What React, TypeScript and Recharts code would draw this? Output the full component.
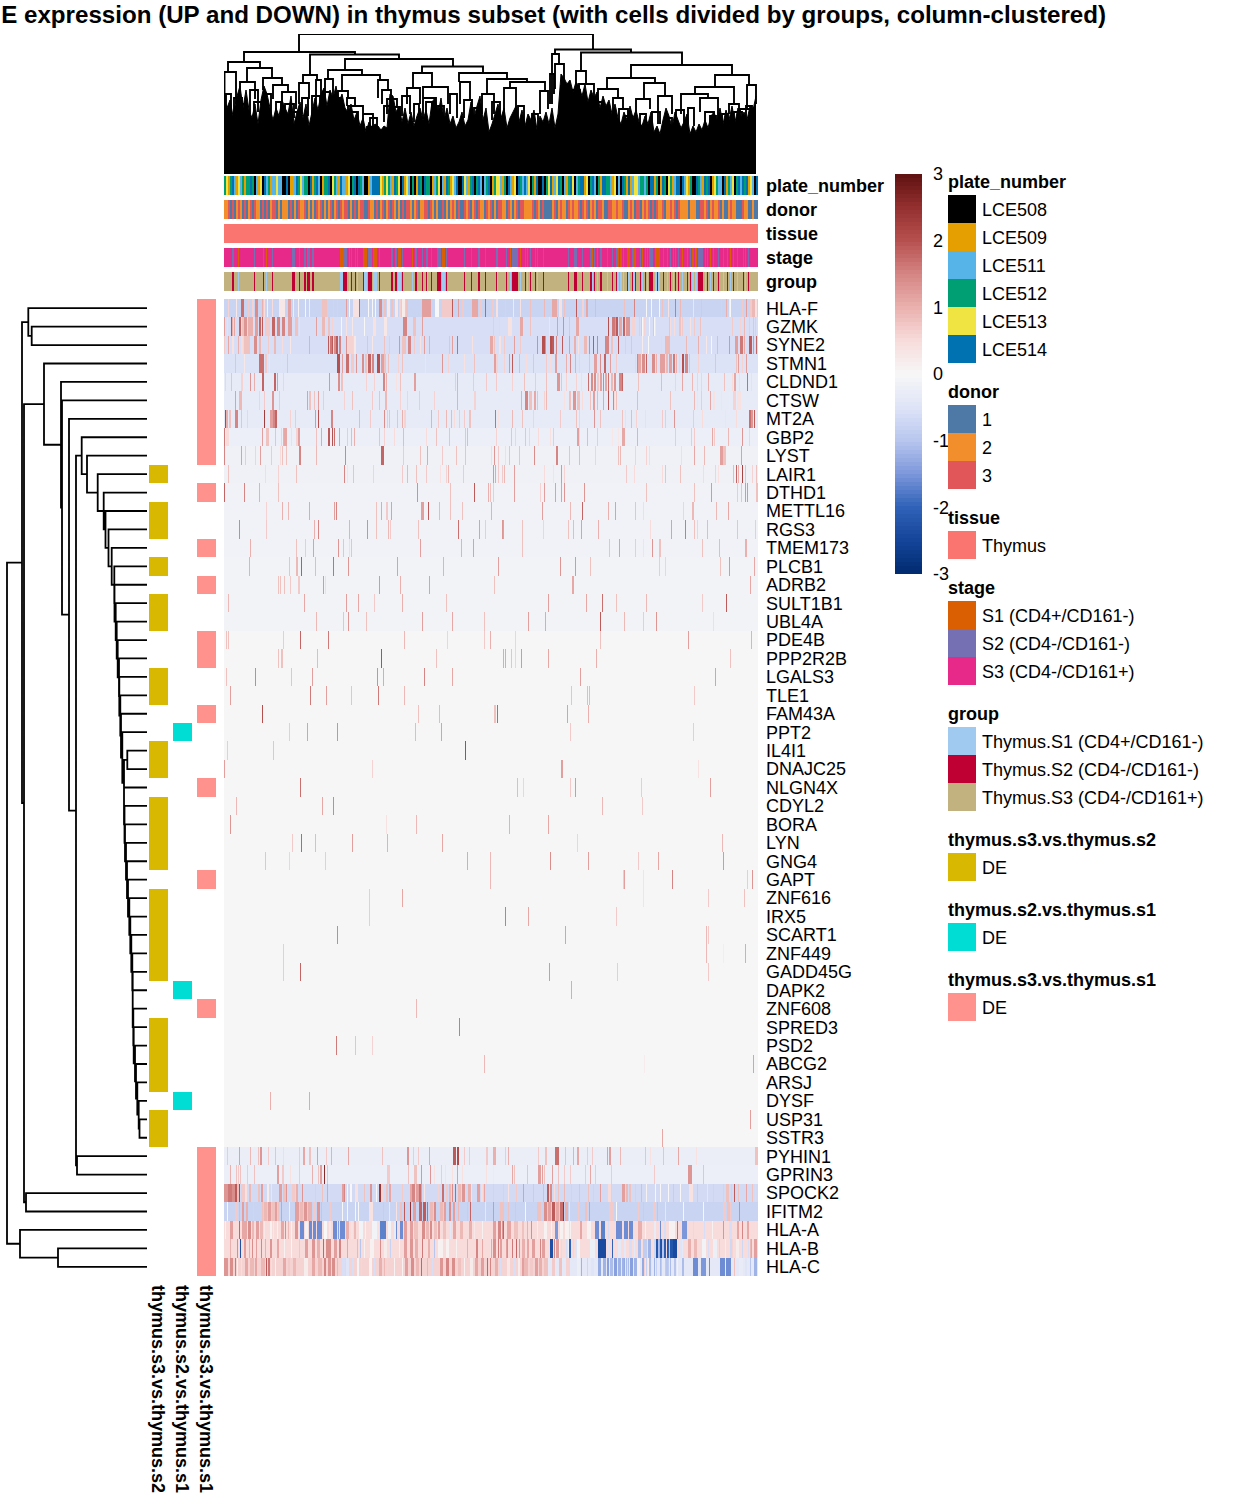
import React from "react";
import {
  ScatterChart,
  Scatter,
  ComposedChart,
  Line,
  Area,
  XAxis,
  YAxis,
  ReferenceLine,
} from "recharts";

const FONT = '"Liberation Sans", Arial, sans-serif';
const COLS = 534;

const genes = [
  "HLA-F", "GZMK", "SYNE2", "STMN1", "CLDND1", "CTSW", "MT2A", "GBP2", "LYST", "LAIR1", "DTHD1",
  "METTL16", "RGS3", "TMEM173", "PLCB1", "ADRB2", "SULT1B1", "UBL4A", "PDE4B", "PPP2R2B", "LGALS3",
  "TLE1", "FAM43A", "PPT2", "IL4I1", "DNAJC25", "NLGN4X", "CDYL2", "BORA", "LYN", "GNG4", "GAPT",
  "ZNF616", "IRX5", "SCART1", "ZNF449", "GADD45G", "DAPK2", "ZNF608", "SPRED3", "PSD2", "ABCG2",
  "ARSJ", "DYSF", "USP31", "SSTR3", "PYHIN1", "GPRIN3", "SPOCK2", "IFITM2", "HLA-A", "HLA-B", "HLA-C",
];

// resting z-score of every row, the stripes below are drawn on top of it
const rowBase = [
  -0.78, -0.6, -0.6, -0.52, -0.33, -0.33, -0.33, -0.22, -0.17, -0.15, -0.13, -0.13, -0.12, -0.12, -0.1,
  -0.1, -0.1, -0.1, -0.02, -0.02, -0.02, -0.02, -0.02, -0.02, -0.02, -0.02, -0.02, -0.02, -0.02, -0.02,
  -0.02, -0.02, -0.02, -0.02, -0.02, -0.02, -0.02, -0.02, -0.02, -0.02, -0.02, -0.02, -0.02, -0.02,
  -0.02, -0.02, -0.25, -0.22, -0.67, -0.78, 0.5, 0.5, 0.6,
];

// [column, z, width in columns]
const hlaF = [[4,.6],[12,.3],[17,1.7,3],[24,.7],[28,.6,2],[31,1.4,3],[38,1],[40,.5],[43,.1],[48,.5],[55,.3,6],[64,1.2,3],[69,.2],[74,.1],[81,0],[85,.2],[98,.8,5],[109,.7],[113,.7],[122,1.2],[125,0],[129,.4,6],[135,1.8],[144,0],[148,0],[151,0],[155,1.4,3],[160,.8,2],[163,.3,3],[167,.8,2],[171,.3,3],[175,.6,2],[178,.2,3],[182,.8,2],[198,1.2,9],[211,0,4],[218,.7,9],[228,1.9],[234,1.2],[238,.7,2],[248,1.1,6],[255,.7,3],[261,1.8],[268,.7,2],[272,.4,2],[281,.7],[289,.3],[296,.4],[306,.8],[320,.9],[328,1.1,5],[335,.4,3],[340,.8],[352,1.9],[358,.6,2],[362,1.1,2],[371,.9],[400,.8],[410,1.5],[422,0],[427,0],[435,0],[438,.8],[444,.4],[451,1.6],[456,.9],[469,.4],[477,.8],[497,.7],[502,1],[506,0],[518,.7],[522,1.2],[526,.7,3],[505,.3],[528,.9,3],[531,.4,2]];
const gzmk = [[0,1.2],[3,.5],[7,1.9],[8,1],[10,1.1],[15,1.8,2],[18,.8,2],[20,1.3,3],[24,1,5],[31,1.2,3],[35,1.8,2],[38,1.9],[41,.7,5],[48,1.8,3],[53,1.5,3],[58,1.5,3],[64,1.2,4],[71,.8,3],[75,.5],[92,1.2],[98,.9,3],[104,.8,2],[108,.6],[117,0],[122,.4],[128,.3],[140,0],[149,.4,3],[160,.3,3],[179,1.5,4],[189,.8,3],[198,1.2],[269,.7],[275,.6],[284,.4,4],[296,1.1,3],[306,.8],[325,.4],[335,.6],[333,1.2],[352,1.1,3],[339,1.4],[345,.8],[384,2],[388,1.6,3],[392,1.9,2],[395,1.1,3],[399,1.8,2],[402,1.3,4],[408,.6,3],[415,.7],[391,1.3],[429,.8],[445,.8],[418,.4,2],[420,.6],[431,.4],[418,.6],[417,.8],[458,.7],[520,.9],[529,.8],[446,.5],[425,.1],[418,0],[430,0],[470,.7],[476,.8],[450,.5],[455,.8,2],[466,.4],[508,.7],[516,.6],[525,.7],[531,.7]];
const syne2 = [[0,.7],[4,1.1],[8,.4,2],[14,1],[17,.5,2],[20,.8,6],[30,1.4,3],[35,.9,2],[44,.7],[50,.9,2],[58,.5],[66,.3],[85,1],[104,1.9],[106,1.6,2],[108,1.9],[110,1.4,2],[112,1.9,2],[115,1.5,2],[122,1.3],[124,.6,5],[130,.3,2],[143,.8],[148,.3],[160,.8],[165,.7],[175,1.3],[178,.8,4],[184,1.5,3],[190,.7],[196,.4],[200,1.2],[205,1],[225,.8],[228,1.2],[233,1.7],[248,.4],[266,1.1,3],[270,.8],[275,.4,2],[280,.7],[290,1.2],[296,.7],[313,1.4],[318,2,3],[321,1.4],[326,2,2],[328,1.9,2],[332,1.5],[338,1.9],[345,1.2],[350,1,2],[354,.4],[360,.9,3],[365,1.4],[369,1.9],[373,1.5],[381,1.5,4],[387,.8,2],[394,1.9],[401,.7],[407,.8],[418,.2],[424,0],[437,.6],[441,.9,5],[462,.9],[474,1],[482,.3],[487,0],[493,.9],[505,1.3],[511,1.2,3],[516,1.6,3],[520,1.1],[525,1.9,3],[529,1.3],[532,1.8]];
const stmn1 = [[11,.8],[20,.3],[35,1.7,5],[41,.7,2],[45,.4],[57,.5],[63,.8],[113,2,3],[118,1.2],[122,1.7,3],[127,.7,3],[132,1.3],[138,1.4,2],[141,.8,2],[144,1.8,3],[148,1.5,2],[153,2,3],[157,1.2,3],[160,.8,2],[164,.8],[174,.6],[178,.8],[201,.4],[218,1.3],[224,.6],[240,.4],[250,.8],[270,1.2,3],[273,.6],[280,.6],[285,1.3],[288,1.9],[272,.6],[295,.9],[302,.5],[309,.8],[322,.7],[326,.5],[331,1.2,2],[342,1],[346,1.5],[351,1],[355,.6],[365,.8],[370,1.2,3],[376,1.4],[380,1.8,2],[386,1.2],[392,.7],[414,1.1,3],[418,1.4,3],[422,1.8],[428,1.4,3],[432,1],[413,1.5],[411,.6],[436,1.2,5],[442,.9,2],[445,1.2,3],[449,1.6,2],[452,1],[455,.6],[458,2,2],[461,1.5,3],[465,.8],[474,.6],[491,.8],[512,.8],[514,1.2],[518,.6],[522,1.2]];
const cldnd1 = [[1,.6],[7,.8],[17,.6,2],[26,1.3],[30,1],[38,1.8,2],[50,1.8,2],[53,1.2],[59,.6],[105,1.3],[114,1.4,2],[117,.8,2],[142,.6],[150,.6],[159,1.5,2],[162,1],[172,.4],[176,.8],[190,1.2,2],[231,.7],[233,1],[262,.7],[272,.7],[249,.7],[288,.6],[300,.8],[311,.7],[322,.8],[333,1.3,3],[337,.8],[342,.6],[352,.6],[357,.5],[364,1.7],[367,1.4,2],[370,1.4,2],[373,.7,2],[376,1.2,2],[379,1.5],[381,1.1,2],[384,1.7],[387,.9,2],[390,1.3,2],[395,1.5,3],[398,1.8],[414,.8],[437,.9],[451,.6],[458,1.1],[468,.9],[473,.6],[477,.6],[484,1],[500,.8],[508,.5],[515,.5],[523,1.7],[527,.5],[510,1.1,2]];
const ctsw = [[11,1.2],[15,.9,3],[35,.6],[40,.7],[48,1.3,2],[55,.7],[83,1.2],[85,.8,2],[90,.8],[94,1.2],[99,.7],[120,.6],[128,.8],[148,.7],[155,.8],[161,.9,2],[176,.6],[183,.6],[195,.7],[210,.6],[233,1],[250,.6,2],[297,1],[301,1.5,3],[305,.8,3],[310,1.1,2],[313,.8],[320,.6],[322,.9],[340,.4],[345,.8,2],[349,1.3,3],[353,.8,3],[358,.5],[366,.8],[373,.9],[369,1.2,2],[379,1.1],[384,2],[390,.5],[392,.8],[389,1.5],[413,.9],[446,.8],[470,.9],[473,.4],[477,.7],[486,1.1],[509,.6,3],[513,.4,4],[497,.4],[489,.4,2],[505,.3]];
const mt2a = [[1,2.1],[2,1,2],[5,.8,2],[11,1.5,3],[17,.8],[23,.6],[40,2.3],[46,1.2,3],[49,1.5,2],[51,1.8,2],[66,.6],[71,.7],[91,1.3],[94,2],[107,1.5,2],[135,.9],[146,.7],[160,1.4],[163,.7],[165,.8],[173,.8],[178,1],[180,.6,2],[207,1],[214,.7],[222,.9],[227,.9],[230,.5],[235,.7],[240,.7],[245,.8,2],[271,1.7],[274,.4],[288,.9],[298,.8],[309,.6],[336,.7],[352,.8],[355,.6],[370,1.3],[376,.8],[398,.8],[401,.5],[407,.9],[412,.6],[421,.5],[438,.7],[441,.7],[450,1.3],[469,.7],[478,.5],[501,.4],[525,1.7,2],[527,1.3,2],[530,1.9],[512,.5]];
const gbp2 = [[0,1.6],[2,.5,3],[38,1.2],[42,.8,3],[51,.8],[57,.6],[59,1],[60,1.1,3],[67,.5],[72,.6,2],[74,1.2,2],[92,.8],[97,1.1],[104,1.9,2],[108,2],[110,1.7],[115,1.2],[123,.7],[127,.9],[130,1],[155,.8],[160,.6],[170,.5],[179,.9],[202,.5],[212,.8],[225,.8],[241,.8],[243,.9],[272,.6],[287,.8],[291,.6],[301,.8],[305,.6],[314,.5],[326,.4],[329,.7],[353,1.2,2],[355,.6],[363,.9],[373,.7],[388,.3],[394,.3],[398,1.1,3],[413,1],[451,.7],[467,.7],[470,.7],[490,.7],[488,1.1],[504,.9],[518,1.3],[525,.6]];
const lyst = [[0,1.5],[17,1.2],[21,.7],[31,.6],[36,1.2],[47,.7],[56,.5],[58,.8],[62,.8],[75,1.5,2],[92,.9],[121,1.5],[157,1.8,3],[179,.7],[196,.8],[203,1.1],[218,.7],[232,.8],[241,.8],[267,.5],[270,1.3],[274,.7],[281,.5],[285,.8],[295,.8],[310,1.4],[332,1.5,2],[345,.8],[355,.9],[371,.6],[394,.8],[396,.9],[411,.6],[422,.6],[425,.5],[457,.5],[470,1.1],[480,.9],[496,1.2,3],[499,.8,3],[517,1.2]];
const lair1 = [[4,.8],[41,.5],[54,.6],[72,.8],[120,1.5],[123,.4],[129,.8],[149,.6],[178,.7],[183,.9],[192,.8],[202,.7],[216,.4],[222,.6],[224,.7],[224,.9],[239,.7],[269,1.3],[271,1.1],[274,.7],[278,.7],[280,.9],[290,1.2],[320,.5],[329,.4],[337,1.3],[340,.6],[402,.7],[410,.5],[438,.7],[441,.8],[438,.5],[456,.8],[491,.6],[494,.4],[509,.9],[512,1.8],[479,.5],[518,2.2],[514,1],[521,.8],[528,.6],[532,.8]];

const dthd1 = [[0,1.8],[20,1.5],[35,1],[54,.8],[193,1.4],[226,.8],[250,1.9],[264,1],[266,.8],[269,.7],[290,1.2],[316,.6],[320,1.2],[331,1.2],[337,1.2],[340,1.3],[360,1.3],[422,.8],[470,.8],[487,1.3],[513,.7],[517,.8],[521,1.3],[523,1.3],[532,.8,2]];
const mettl16 = [[42,.6],[58,1],[64,.9],[85,1.1],[110,1.2],[112,1.5],[152,.8],[157,1.1],[162,.7,2],[167,1.2],[197,1.2,3],[204,1.9],[215,.9],[226,.8],[238,.8],[267,1],[318,1.2],[346,.9],[358,1.8],[384,1],[391,1.2],[411,.8],[419,.5],[459,.6],[468,.9,2],[492,.9],[504,1.1]];
const rgs3 = [[15,1.5],[42,.7],[90,1],[94,1.5],[125,1],[143,1.4],[152,.8],[164,.9],[166,.7],[194,.8],[234,1.7],[255,1.2],[261,.7],[278,1.3],[279,1.2],[298,.8],[319,.6],[344,.8],[349,.9],[357,1.2],[374,1],[426,.5],[447,1.2],[461,1.6],[470,.8],[473,.6],[483,.9],[513,.8],[531,.7]];
const tmem173 = [[26,1],[72,.8],[81,.7],[89,1.2],[114,1.3],[119,.8],[125,.5],[127,.8],[196,1.2],[237,1],[249,1.2],[298,.8],[385,.8],[395,1.2],[411,.7],[419,.4],[428,1.3],[435,.8,2],[478,.8],[495,.9],[521,1,2]];
const plcb1 = [[25,1],[65,.8],[72,.9,2],[77,1.9],[91,.9],[109,1.7],[124,1.3],[173,1.2],[219,1],[274,1.2],[336,1.3],[351,1.3],[366,.8],[435,.7],[441,.6],[496,.8],[505,1.3],[530,1.1]];
const adrb2 = [[54,.8],[56,.8],[60,.8],[66,.7],[74,.7,2],[99,1.3],[101,.5],[155,1.3],[176,1],[205,1.2],[270,.8],[348,1.1,2],[526,1.1]];
const sult1b1 = [[4,.9],[80,1.1],[122,1.2],[134,1.1],[150,.7],[178,1],[222,.8],[324,1.2],[362,1.1],[378,1.7],[392,.8],[422,.9],[478,.7],[502,1.9]];
const ubl4a = [[92,.9],[119,.8],[124,1.3],[142,.8],[198,1.2],[228,1.1],[260,.8],[304,1.2],[321,1.1],[376,1.9],[400,.9],[419,.7],[432,1.3],[489,.5]];
const pde4b = [[2,.8],[4,.8],[59,.7],[76,1.8],[104,1.6],[180,.9],[223,.6],[260,.7],[266,1],[291,.6],[376,.8],[464,1.2],[527,1]];
const ppp2r2b = [[54,.8],[57,.8,2],[93,.9],[157,2],[212,.8],[279,1.1],[281,1.1],[287,.8],[291,.6],[297,1.3],[324,1.1],[372,1],[506,.8]];
const lgals3 = [[2,.8],[31,1.5],[67,.8],[88,1.2],[153,1.4],[159,1.1],[200,1.5],[228,1.1],[356,1.2],[491,1.2]];
const tle1 = [[6,1.2],[86,1.6],[102,1.2],[127,.8],[154,1.6],[180,.9],[347,.8],[363,.9],[365,.9],[470,.7]];
const fam43a = [[38,2],[194,.8],[215,.9],[270,.8,2],[273,1.8],[343,1.2],[364,1]];
const ppt2 = [[65,.7],[83,1.2],[113,1.4],[191,.9],[217,1.2],[346,.7],[469,.7]];
const il4i1 = [[3,.7],[49,.8],[241,2.1]];
const dnajc25 = [[0,1.2],[148,.6],[337,1.2,2],[474,.4]];
const nlgn4x = [[76,1.7],[293,.9],[299,.6],[346,.7],[351,1.3],[417,.7],[486,1.2]];
const cdyl2 = [[12,.9],[98,1.1],[109,1.5],[378,.9],[418,.7]];
const bora = [[6,1.3],[162,.4],[192,.9],[285,1],[324,1.1]];
const lyn = [[68,.7],[77,1.8],[91,.9],[128,1.2],[163,1],[218,1.1],[353,.6],[498,.9]];
const gng4 = [[41,.8],[65,.6],[101,.7],[243,1.1],[266,.9],[326,1.4],[364,1.2],[414,.7],[434,1.1],[499,1.3]];
const gapt = [[266,.9],[399,.7],[400,1.2],[419,.4],[448,1.5],[523,.7],[528,1.3]];
const znf616 = [[145,.7],[178,1.1],[419,.4],[484,.7],[520,.8]];
const irx5 = [[145,.7],[281,1.6],[304,1.1],[392,.7]];
const scart1 = [[113,1.5],[341,1.2],[482,.9],[484,.7]];
const znf449 = [[59,.7],[482,.9],[499,.2],[521,1.1]];
const gadd45g = [[59,.7],[76,1.8],[325,1.3],[393,.7],[484,.7]];
const dapk2 = [[347,1.1]];
const znf608 = [[192,.9]];
const spred3 = [[235,1.6]];
const psd2 = [[112,1.6],[131,.8],[148,.6]];
const abcg2 = [[260,.9],[420,.2],[529,1.2]];
const arsj: number[][] = [];
const dysf = [[46,1],[85,1.1]];
const usp31 = [[526,1.2]];
const sstr3 = [[438,1.1]];
const pyhin1 = [[3,.7],[15,1.2],[26,.9],[34,.8],[36,1.3,2],[44,.7],[51,.8],[59,.5],[75,.7],[79,1.1,2],[85,.8,2],[93,1.2],[102,.7],[107,1],[124,1.1],[158,.8],[183,1.3,2],[189,.7],[194,.7],[205,1.1],[229,1.9,3],[233,2.1,2],[240,.7],[245,.7],[262,.7],[263,.7],[269,1,3],[281,.7],[284,1],[314,.7],[321,.8,2],[331,1.7,4],[341,.8],[349,1],[353,1.1,2],[363,.7],[368,.7],[383,1.2],[385,1.2,2],[396,.9],[421,.8],[426,.4],[439,.8],[454,1.1],[472,.4],[531,.8,3]];
const gprin3 = [[6,1],[12,.8],[14,.7],[16,.8],[23,.7],[30,.8],[53,1.2,2],[58,.7,2],[66,.4],[75,.7],[88,1],[94,.8],[96,1.2,2],[100,2.6],[103,.8],[163,.7,3],[184,.8],[190,.8,3],[197,1.3],[206,1.3],[210,.4],[217,.7],[221,.4],[228,.4],[233,1.2],[238,.4],[262,.4],[269,.3],[288,1.1],[290,.8],[303,.8],[314,1.2,3],[318,1.2],[320,.8],[328,1.2],[334,.8],[340,.7],[346,.7],[361,.7],[366,1.1],[371,.7],[387,.7],[430,.7],[464,1.3,4],[479,.8]];
const spock2 = [[0,1.3,4],[4,1.6,4],[8,1.4,3],[11,1.9,2],[13,.8,2],[15,2.1],[17,.7,4],[21,.4,2],[25,.9,2],[34,.8,2],[37,1.2,2],[43,.2,2],[47,.4],[55,1.2,3],[59,.8,3],[62,1.3],[68,.7,3],[72,1,2],[78,1.3],[91,.7],[98,.8],[103,1.1],[105,.6],[118,1.2,2],[120,1.5],[123,0],[126,0,2],[131,.4,3],[140,.8],[146,1.3,2],[152,0],[155,2.4,2],[157,.6,3],[162,.8,2],[165,1.1,2],[178,.7],[186,1.1,2],[188,1.5,3],[192,1.2,3],[195,1.7,2],[197,1.2],[200,.3],[214,.6],[218,1.7,2],[222,.7,2],[225,.9,2],[228,1.4],[231,1.8],[234,.9,3],[238,1.3,3],[244,1,3],[247,.4],[253,1.2,3],[257,.5,2],[260,1.1],[269,.7],[279,.7],[284,.4],[292,.7],[299,1.2],[309,.8],[319,.9],[323,1.9,2],[326,1.4,2],[330,.5],[334,.8],[340,.9],[347,.7],[355,.8],[364,.8],[387,.7],[369,.7],[376,1.2],[384,.5,3],[398,1.2,3],[402,.9,2],[405,.8,2],[411,.7],[417,.9],[422,.1],[431,0],[436,0],[444,0],[449,.8],[456,0],[465,.4,4],[473,.8],[483,.4],[489,.7],[499,.7],[502,.8,3],[507,.7],[510,1.9],[514,.8],[522,1.1],[528,.8],[531,.6]];
const ifitm2 = [[3,0],[11,.7,3],[15,.9],[18,1.2,2],[22,1,2],[29,.7],[38,.8],[40,.9,3],[44,1.2,3],[48,.8,3],[51,1.2,2],[54,.8],[57,1.2],[65,.2],[71,1.2,4],[76,.9,3],[80,1.3,3],[84,1,4],[89,.7,3],[93,1.3,3],[97,.9],[106,.7],[118,0],[123,0],[131,0],[134,0],[145,.4,4],[159,.8],[165,.4],[172,.4],[176,.8,2],[180,1.9],[186,2.5],[189,1.2,3],[195,1.8,3],[199,1.9,3],[203,1.7],[206,.9,3],[210,1.4,2],[216,.9,3],[220,1.2,2],[225,1.4,2],[229,1.2,2],[234,.9],[243,.8],[246,1.8],[261,.4],[269,1.3],[276,.8,4],[284,.8],[291,.8],[301,0],[313,.8,4],[320,1.4,3],[324,1.2,3],[328,1.9,3],[332,1.1,3],[336,1.7,3],[339,2.5],[341,1,3],[345,.4],[354,.7],[361,.8,2],[365,1.2],[385,.7,5],[392,0],[414,.7],[419,.8],[429,.7,3],[433,.9],[441,.4],[459,0],[479,0],[499,.7,3],[503,.8,3],[506,.7],[515,1.4]];
const hlaA = [[1,.1],[6,1.2,3],[15,1.8],[18,1.1,5],[24,1.4,3],[28,.9,2],[32,1.2,3],[36,.9,3],[40,.3],[46,.1,2],[49,-.3],[53,.1],[57,1.1,3],[61,1.4],[64,.9],[67,.1],[71,1.3,3],[76,-1.6,4],[81,-.1,3],[85,-1.6,3],[89,-1.6,3],[93,-1.6,5],[100,0,3],[105,.3,2],[109,-1.6,4],[114,-1.4],[116,-1.6,5],[122,1,3],[127,.4,2],[130,.9,2],[135,-.1,4],[141,-.1],[145,-.5],[148,-.1,4],[152,.4,3],[152,-.1],[156,-1.7,6],[164,-.1,3],[170,-.3,2],[172,-1.6],[176,-1.6,3],[180,1.2,3],[186,1.2,3],[190,.8,4],[198,1.4,3],[202,.9,3],[206,1.4,2],[210,.8,3],[214,1.2,2],[219,.8,3],[226,-.4],[229,1.1,3],[236,.9,3],[245,1,3],[250,.3],[258,.1],[269,1.2,3],[274,1.5,3],[278,1.3],[279,1.8],[283,1.1,4],[290,.8,4],[298,.8,2],[303,1],[307,1.4],[313,.2],[320,.1,3],[327,-.1],[331,-1.5,3],[336,.1,3],[341,.1,4],[346,.1],[356,1.1,2],[363,.1,4],[371,-1.6,4],[377,-1.7,4],[384,-.6],[392,-1.6,6],[400,-1.6,4],[405,-1.6,4],[414,1,4],[421,.1],[430,-.3,2],[436,-1.6],[440,-.6,2],[445,.1,6],[453,-1.6],[458,-1.5,5],[469,-.6],[480,-.6],[488,.1],[499,-1.3],[505,-.6,3],[513,1.1,2],[518,1.5],[523,1.1,2],[531,-.5]];
const hlaB = [[6,1],[13,1.4],[16,-2.3],[20,1.2,2],[25,1],[28,1.4],[32,1.2],[37,1.5],[41,1],[46,1.3,2],[53,1.1,2],[60,.1],[67,0],[75,-.8],[81,1.2,3],[88,1.3,3],[93,1,3],[99,1.8],[102,1.4,5],[110,1.2,3],[115,1.5,2],[123,1.1],[133,.9],[136,-1],[140,.1],[146,.1,4],[156,1.4],[160,.2,3],[166,-.8],[175,.1],[180,1.2,3],[186,1.3,3],[191,1,3],[198,1.6],[204,1,2],[210,-1],[214,.1,5],[222,.1,3],[232,.1],[243,1],[252,1.5,2],[258,1.1],[266,.4],[269,1.4,3],[276,1.2,2],[282,1.2,2],[288,1.6],[295,1.3],[303,1.1,2],[310,1.4],[318,1.2,3],[326,1.5],[332,1.2,3],[327,1.9],[330,1.5],[267,1.1],[274,1.6],[283,1.4],[292,1.8],[298,1,3],[308,1.2,3],[316,1.5],[326,.1,3],[335,.1],[344,-.2,3],[352,-.5],[326,-2.3,3],[331,.1],[337,-.6],[342,-.6],[345,-2,2],[349,-.6],[353,-.1,3],[366,-.2,5],[375,-.4],[374,-2.4,8],[384,-.5],[388,-2],[395,-.5,2],[394,-.4,3],[400,-.4,2],[405,-.6,3],[410,-.4],[414,-1.1,3],[419,-.9,4],[424,-1.2,3],[430,-.7,3],[434,-1.1,4],[439,-.8,3],[443,-1,3],[437,-1,3],[432,-2,2],[435,-1.2],[432,-2.2,2],[436,-2.2,2],[440,-2.1,2],[443,-2,2],[446,-2.2,3],[449,-2.4,4],[443,-2.2],[437,-2.3],[455,-.5,3],[458,-.4],[464,1,3],[470,.9,3],[478,-.1,4],[484,-.6],[489,-.2,4],[495,-.7],[501,-.2],[506,-.7,3],[512,.2,3],[518,-.7],[524,-.6],[531,-.9],[485,.5],[530,1.2,3],[527,1.1],[508,.6],[521,.5],[526,.9]];
const hlaC = [[320,-.4,214],[0,1.3,4],[6,1.4,3],[11,1.6],[13,.1],[17,-.5],[21,1.1,3],[26,.9,4],[31,1.1,2],[37,.9,4],[42,1.9],[44,1.6,2],[47,.5],[51,.1],[59,1.1,3],[64,.7,2],[69,.9,3],[80,.2,4],[88,1.1,3],[94,.9,4],[100,1.5,2],[104,1.3,3],[108,1.4,3],[113,.9],[118,-.6,3],[122,-.5,3],[128,-.6,2],[133,-.1,2],[137,-.6],[145,.1,3],[150,-.6],[155,1,3],[160,.9],[163,-.6],[170,.1],[178,.1],[181,1.2,3],[187,1.4,3],[192,.9,3],[197,1.8],[203,.9],[208,-.6],[216,1.3,3],[222,1.5,3],[228,1.4,3],[234,.8,3],[240,.1],[246,.2,3],[251,1.1,3],[257,1.2,3],[263,1.8],[266,1.5],[271,1,3],[276,-.6],[283,.3,3],[289,-.6,3],[294,.2,2],[298,1.2,3],[300,.9,4],[306,.7,3],[311,1.2,3],[315,1,3],[320,.8,4],[328,.7,3],[335,.8,3],[342,.6,4],[349,-.4,3],[353,-.2,3],[357,-1.2],[359,-.4,3],[363,-.7],[367,-.5,3],[374,-1.3,3],[379,-1.2,3],[383,-1.4,2],[386,-1.1,3],[390,-1.4,3],[394,-1.2,3],[398,-1.3,2],[402,-1.1,3],[406,-1.4,3],[410,-1.2,3],[414,-1,2],[418,-1.3,3],[422,-.8],[425,-1.1,2],[430,-1.2],[436,-1.1,2],[441,-.9,4],[398,-1.2,3],[403,-.6],[400,-.5],[400,-1.3],[413,.1,3],[420,.6],[424,.2],[427,-.5],[432,-.8],[437,-.9],[442,-1,2],[446,-1.1],[450,-1,2],[453,.1],[458,-1.1,2],[469,-1.6,5],[477,-1.5,5],[485,-1.6],[496,-1.6,5],[502,-1.6,5],[510,.8],[515,-.3,4],[521,-.5,2],[526,-1],[530,-1.2,3]];

const stripes = [
  hlaF, gzmk, syne2, stmn1, cldnd1, ctsw, mt2a, gbp2, lyst, lair1, dthd1, mettl16, rgs3, tmem173, plcb1,
  adrb2, sult1b1, ubl4a, pde4b, ppp2r2b, lgals3, tle1, fam43a, ppt2, il4i1, dnajc25, nlgn4x, cdyl2, bora,
  lyn, gng4, gapt, znf616, irx5, scart1, znf449, gadd45g, dapk2, znf608, spred3, psd2, abcg2, arsj, dysf,
  usp31, sstr3, pyhin1, gprin3, spock2, ifitm2, hlaA, hlaB, hlaC,
];

// z -> colour stops of the heatmap ramp
const zStops = [-3, -2.5, -2, -1.5, -1, -0.5, 0, 0.5, 1, 1.5, 2, 2.5, 3];
const zColors = [
  "#002b6f", "#14449a", "#2f62b8", "#7c97da", "#b8c6ee", "#dfe4f7", "#f7f7f7",
  "#f7dcdb", "#eab0ad", "#d58584", "#b6504f", "#93302f", "#5e1111",
];

const hex = (c: string) => [1, 3, 5].map((i) => parseInt(c.slice(i, i + 2), 16));
const zColor = (z: number) => {
  const v = Math.max(-3, Math.min(3, z));
  let i = 0;
  while (i < zStops.length - 2 && v > zStops[i + 1]) i++;
  const t = (v - zStops[i]) / (zStops[i + 1] - zStops[i]);
  const a = hex(zColors[i]);
  const b = hex(zColors[i + 1]);
  return `rgb(${a.map((x, k) => Math.round(x + (b[k] - x) * t)).join(",")})`;
};

// annotation tracks above the heatmap, one character per two columns
const trackNames = ["plate_number", "donor", "tissue", "stage", "group"];
const plateCodes = [
  "3413521423", "1335302140", "5231224220", "0501125342", "3305135201", "3350432152", "2140350532", "0012555541",
  "3432153405", "1420301530", "5330123402", "1531425005", "4213503520", "2350134421", "3052140532", "5240315005",
  "0345124530", "2135402355", "1403520315", "5332140205", "3151244233", "2305513015", "3043125505", "2413005321",
  "5350143220", "5132403525", "3514205532",
].join("");
const donorCodes = [
  "1120201210", "2012021102", "0201220101", "1102010211", "2010102120", "1012012021", "2201020122", "0021102012",
  "0120210102", "0221012011", "2202101002", "0101210200", "2120120211", "0212010221", "1021012022", "1111202102",
  "0000120121", "1021211202", "1201210221", "0022112112", "0012102201", "2120202112", "0112120211", "1101110022",
  "1201211201", "0012110002", "1100100010",
].join("");
// cells in S2 and S1, everything else belongs to S3 [column, width]
const s2Runs = [[8,2],[30,1],[39,1],[48,1],[68,3],[75,1],[80,2],[83,3],[88,2],[119,4],[127,1],[131,1],[139,1],[144,4],[155,1],[167,2],[171,2],[178,1],[191,2],[198,1],[202,1],[207,1],[213,4],[222,1],[240,1],[247,1],[254,2],[261,1],[272,1],[282,1],[288,6],[301,1],[306,1],[311,1],[319,1],[344,1],[350,3],[358,1],[366,2],[370,1],[376,2],[388,1],[392,1],[403,1],[408,1],[411,1],[416,1],[421,1],[425,4],[433,1],[439,1],[446,1],[451,1],[454,1],[463,1],[466,1],[474,5],[483,1],[489,1],[494,1],[503,1],[509,1],[519,1],[524,1]];
const s1Runs = [[14,1],[42,1],[116,3],[125,1],[133,1],[140,3],[149,4],[174,3],[188,1],[203,1],[218,3],[273,1],[286,1],[296,1],[303,1],[313,1],[368,1],[373,1],[383,1],[393,2],[396,2],[399,1],[404,2],[409,2],[418,1],[423,1],[431,2],[434,2],[443,1],[449,1],[458,1],[468,2],[471,2],[481,1],[486,1],[499,1],[506,1],[513,1],[521,1]];

const plateColors = ["#000000", "#E69F00", "#56B4E9", "#009E73", "#F0E442", "#0072B2"];
const donorColors = ["#4E79A7", "#F28E2B", "#E15759"];
const tissueColors = ["#FB7570"];
const stageColors = ["#D95F02", "#7570B3", "#E7298A"];
const groupColors = ["#A1CAF1", "#BE0032", "#C2B280"];

// comparison columns between the row tree and the heatmap
const compareNames = ["thymus.s3.vs.thymus.s2", "thymus.s2.vs.thymus.s1", "thymus.s3.vs.thymus.s1"];
const compareColors = ["#D8B800", "#00DDD4", "#FF928C"];
const s3s2Rows = [9, 11, 12, 14, 16, 17, 20, 21, 24, 25, 27, 28, 29, 30, 32, 33, 34, 35, 36, 39, 40, 41, 42, 44, 45];
const s2s1Rows = [23, 37, 43];
const s3s1Rows = [0, 1, 2, 3, 4, 5, 6, 7, 8, 10, 13, 15, 18, 19, 22, 26, 31, 38, 46, 47, 48, 49, 50, 51, 52];

// column dendrogram: [left col, right col, height, left leg end, right leg end]
const colMerges = [
  [75,369,140,122,124.5],[20,131,122,112,119.5],[4,36,112,102,106],[0.5,12,102,60,70],[23,48,106,92,96],
  [16,31,92,70,75],[39,58,96,84,89],[49,64,89,75,82],[58,72,82,60,65],[86,175,119.5,99,115],[79,93,99,91,94],
  [75,85,91,70,75],[92,97,94,70,60],[121,229,115,104,107.5],[104,138,104,95,99],[101,109,95,70,65],
  [118,156,99,83,94],[114,124,83,70,76],[123,131,76,68,69],[124,139,68,55,60],[139,149,60,50,47],[143,149,47,35,35],
  [154,164,94,76,84],[158,167,84,70,75],[163,173,75,60,67],[168,176,67,48,54],[167,172,54,30,30],
  [198,259,107.5,101,101],[189,208,101,86,87],[183,196,86,70,70],[199,224,87,76,70],[199,212,76,55,60],
  [235,283,101,92,95],[236,246,92,70,75],[263,303,95,80,92],[286,321,92,86,83],[316,324,83,60,65],[280,292,86,60,60],
  [258,270,80,60,60],[331,407,124.5,120,121.5],[328,335,120,70,110],[331,340,110,85,85],[357,458,121.5,103,109],
  [352,362,103,75,90],[355,370,90,75,70],[407,508,109,96,99],[383,431,96,85,91],[374,394,85,72,76],
  [370,378,72,60,50],[389,399,76,60,65],[395,404,65,45,50],[420,441,91,75,78],[412,426,75,60,65],[434,448,78,50,60],
  [491,525,99,87,89],[471,510,87,80,70],[457,484,80,60,76],[476,494,76,62,50],[481,490,62,42,48],[505,515,70,60,55],
  [523,532,89,65,70],[516,530,65,50,45],
  [2,7,80,55,58],[10,18,76,58,55],[14,21,70,50,52],[26,34,84,60,62],[30,38,72,55,50],[41,47,80,60,58],[52,57,72,52,55],
  [61,70,70,50,56],[68,74,62,45,48],[78,84,76,60,58],[88,96,78,58,60],[99,106,82,62,58],[110,116,76,60,55],
  [127,134,62,48,46],[146,153,56,40,42],[160,166,68,52,48],[178,186,78,58,60],[190,195,70,52,55],[202,208,72,55,50],
  [214,220,68,50,52],[226,233,80,60,56],[240,248,74,56,52],[250,256,66,50,48],[268,276,72,54,50],[294,300,68,52,48],
  [308,314,60,46,44],[326,330,100,70,80],[337,345,88,70,72],[348,356,84,65,68],[364,372,66,50,46],[380,386,62,44,48],
  [401,408,58,42,46],[416,422,60,46,44],[428,436,62,48,50],[442,448,56,42,44],[452,460,64,46,48],[464,470,66,50,48],
  [486,492,58,44,42],[498,504,60,46,44],[510,518,62,48,44],[522,528,68,52,50],
];
// height of the solid mass of leaves under the tree
const leafCols = [0,3,6,9,13,16,19,22,25,28,31,34,37,40,43,46,49,52,55,58,61,64,67,70,73,76,79,82,85,88,91,94,97,100,103,106,109,112,115,118,121,124,127,130,133,136,139,142,145,148,151,154,157,160,163,166,169,172,175,178,181,184,187,190,193,196,199,202,205,208,211,214,217,220,223,226,229,232,235,238,241,244,247,250,253,256,259,262,265,268,271,274,277,280,283,286,289,292,295,298,301,304,307,310,313,316,319,322,325,328,331,334,337,340,343,346,349,352,355,358,361,364,367,370,373,376,379,382,385,388,391,394,397,400,403,406,409,412,415,418,421,424,427,430,433,436,439,442,445,448,451,454,457,460,463,466,469,472,475,478,481,484,487,490,493,496,499,502,505,508,511,514,517,520,523,526,529,532];
const leafTops = [76,66,74,58,78,88,66,84,64,56,70,50,74,88,80,66,54,66,58,74,66,60,78,50,62,72,56,70,48,62,76,64,80,86,68,84,76,88,72,80,66,62,70,54,62,48,56,42,52,46,50,48,44,48,46,80,78,62,68,52,66,50,62,48,58,66,54,64,50,72,76,60,76,54,66,50,58,46,52,62,48,54,72,56,68,78,54,66,42,50,60,70,56,66,46,56,62,68,52,64,48,60,54,64,44,58,52,62,50,66,46,60,100,96,90,94,82,92,88,78,90,72,84,76,82,66,78,68,74,60,70,56,50,62,54,68,56,64,52,48,58,50,62,42,48,40,54,66,58,46,62,54,46,52,60,40,48,42,50,44,54,46,58,62,52,66,50,64,54,68,52,66,56,62,54,68,64,78];

// row dendrogram, [height, child, child], a bare number is a row
const chainHeights = [65.3,60,49.3,43.3,41.5,38.5,35.3,32.7,32.5,31.3,30.3,29.3,28,27.7,26.7,26,24.7,23,23,22.5,22,21,20,19,17.7,16.7,15.7,14.7,14.3,14.3,13.7,13.3,12,11,9.7,8.3,7.5];
const chainMembers: any[] = [7,8,9,10,11,12,13,14,15,16,17,18,19,20,21,22,23,[19.7,24,25],26,27,28,29,30,31,32,33,34,35,36,37,38,39,40,41,42,43,44];
const chainNode = chainHeights.reduceRight((below: any, h, i) => [h, chainMembers[i], below], 45);
const rowTree = [140,
  [125,
    [118.7, 0, [115.3, 1, 2]],
    [123,
      [103, 3, [86, 4, [85, 5, [78, 6, [71, chainNode, [70, 46, 47]]]]]],
      [121, 48, 49],
    ],
  ],
  [127, 50, [89, 51, 52]],
];

// tables the charts need
const heatCells: any[] = [];
rowBase.forEach((z, row) => heatCells.push({ col: 0, row: row + 0.5, w: COLS, fill: zColor(z) }));
stripes.forEach((list, row) =>
  list.forEach((s) => heatCells.push({ col: s[0], row: row + 0.5, w: s[2] || 1, fill: zColor(s[1]) }))
);

const trackCells: any[] = [];
plateCodes.split("").forEach((c, i) => {
  if (i * 2 < COLS) trackCells.push({ col: i * 2, track: 0.5, w: 2, fill: plateColors[+c] });
});
donorCodes.split("").forEach((c, i) => {
  if (i * 2 < COLS) trackCells.push({ col: i * 2, track: 1.5, w: 2, fill: donorColors[+c] });
});
trackCells.push({ col: 0, track: 2.5, w: COLS, fill: tissueColors[0] });
trackCells.push({ col: 0, track: 3.5, w: COLS, fill: stageColors[2] });
trackCells.push({ col: 0, track: 4.5, w: COLS, fill: groupColors[2] });
s2Runs.forEach(([col, w]) => {
  trackCells.push({ col, track: 3.5, w, fill: stageColors[1] });
  trackCells.push({ col, track: 4.5, w, fill: groupColors[1] });
});
s1Runs.forEach(([col, w]) => {
  trackCells.push({ col, track: 3.5, w, fill: stageColors[0] });
  trackCells.push({ col, track: 4.5, w, fill: groupColors[0] });
});

const compareCells: any[] = [];
[s3s2Rows, s2s1Rows, s3s1Rows].forEach((rows, i) =>
  rows.forEach((r) => compareCells.push({ slot: i + 0.5, row: r + 0.5, fill: compareColors[i] }))
);

const colLinks: any[] = [];
colMerges.forEach(([l, r, h, hl, hr]) => {
  colLinks.push({ col: l, h: hl }, { col: l, h }, { col: r, h }, { col: r, h: hr }, { col: r, h: null });
});
const leafMass = leafCols.map((col, i) => ({ col, h: leafTops[i] }));

const rowLinks: any[] = [];
const walkTree = (node: any): { h: number; pos: number } => {
  if (typeof node === "number") return { h: 0, pos: node + 0.5 };
  const a = walkTree(node[1]);
  const b = walkTree(node[2]);
  rowLinks.push(
    { h: a.h, pos: a.pos },
    { h: node[0], pos: a.pos },
    { h: node[0], pos: b.pos },
    { h: b.h, pos: b.pos },
    { h: b.h, pos: null }
  );
  return { h: node[0], pos: (a.pos + b.pos) / 2 };
};
walkTree(rowTree);

const barLevels: any[] = [];
for (let i = 0; i < 100; i++) {
  const z = -3 + (i + 0.5) * 0.06;
  barLevels.push({ at: 0, z, fill: zColor(z) });
}

// legends on the right, names and colours above, placed here
const legends = [
  { title: "plate_number", names: ["LCE508", "LCE509", "LCE511", "LCE512", "LCE513", "LCE514"], colors: plateColors, top: 195 },
  { title: "donor", names: ["1", "2", "3"], colors: donorColors, top: 405 },
  { title: "tissue", names: ["Thymus"], colors: tissueColors, top: 531 },
  { title: "stage", names: ["S1 (CD4+/CD161-)", "S2 (CD4-/CD161-)", "S3 (CD4-/CD161+)"], colors: stageColors, top: 601 },
  { title: "group", names: ["Thymus.S1 (CD4+/CD161-)", "Thymus.S2 (CD4-/CD161-)", "Thymus.S3 (CD4-/CD161+)"], colors: groupColors, top: 727 },
  { title: compareNames[0], names: ["DE"], colors: [compareColors[0]], top: 853 },
  { title: compareNames[1], names: ["DE"], colors: [compareColors[1]], top: 923 },
  { title: compareNames[2], names: ["DE"], colors: [compareColors[2]], top: 993 },
];

const ROW_H = 977 / genes.length;
const NO_MARGIN = { top: 0, right: 0, bottom: 0, left: 0 };
const place = (left: number, top: number): React.CSSProperties => ({ position: "absolute", left, top });

const HeatCell = (p: any) => (
  <rect
    x={p.cx}
    y={p.cy - ROW_H / 2}
    width={p.payload.w}
    height={ROW_H}
    fill={p.payload.fill}
    shapeRendering="crispEdges"
  />
);
const TrackCell = (p: any) => (
  <rect x={p.cx} y={p.cy - 10} width={p.payload.w} height={19} fill={p.payload.fill} shapeRendering="crispEdges" />
);
const CompareCell = (p: any) => (
  <rect
    x={p.cx - 9}
    y={p.cy - ROW_H / 2}
    width={19}
    height={ROW_H}
    fill={p.payload.fill}
    shapeRendering="crispEdges"
  />
);
const BarCell = (p: any) => (
  <rect x={0} y={p.cy - 2.1} width={27} height={4.2} fill={p.payload.fill} shapeRendering="crispEdges" />
);
const CompareTick = (p: any) => (
  <text
    x={p.x}
    y={p.y}
    transform={`rotate(90 ${p.x} ${p.y})`}
    dominantBaseline="central"
    fontFamily={FONT}
    fontSize={18}
    fontWeight="bold"
    fill="#000"
  >
    {compareNames[p.payload.value - 0.5]}
  </text>
);

const App = () => (
  <div style={{ position: "absolute", left: 0, top: 0, width: 1248, height: 1497, background: "#fff", overflow: "hidden" }}>
    <svg width={1248} height={34} style={place(0, 0)}>
      <text x={1106} y={23} textAnchor="end" fontFamily={FONT} fontSize={24.15} fontWeight="bold" fill="#000">
        E expression (UP and DOWN) in thymus subset (with cells divided by groups, column-clustered)
      </text>
    </svg>

    <div style={place(224, 34)}>
      <ComposedChart width={COLS} height={140} margin={NO_MARGIN}>
        <XAxis hide type="number" dataKey="col" domain={[0, COLS]} />
        <YAxis hide type="number" domain={[0, 140]} />
        <Area data={leafMass} dataKey="h" type="linear" fill="#000" fillOpacity={1} stroke="#000" strokeWidth={1} isAnimationActive={false} />
        <Line data={colLinks} dataKey="h" stroke="#000" strokeWidth={1.9} dot={false} connectNulls={false} isAnimationActive={false} />
      </ComposedChart>
    </div>

    <div style={place(224, 174)}>
      <ScatterChart width={700} height={120} margin={NO_MARGIN}>
        <XAxis hide type="number" dataKey="col" domain={[0, COLS]} />
        <YAxis
          type="number"
          dataKey="track"
          orientation="right"
          reversed
          width={166}
          domain={[0, 5]}
          ticks={[0.5, 1.5, 2.5, 3.5, 4.5]}
          interval={0}
          axisLine={false}
          tickLine={false}
          tickSize={0}
          tickMargin={8}
          tickFormatter={(v: number) => trackNames[v - 0.5]}
          tick={{ fontFamily: FONT, fontSize: 18, fontWeight: "bold", fill: "#000" }}
        />
        <Scatter data={trackCells} shape={TrackCell} isAnimationActive={false} />
        <ReferenceLine x={63.4} stroke="#fff" strokeWidth={1} />
      </ScatterChart>
    </div>

    <div style={place(0, 299)}>
      <ComposedChart width={147} height={977} margin={NO_MARGIN}>
        <XAxis hide type="number" dataKey="h" reversed domain={[0, 147]} />
        <YAxis hide type="number" reversed domain={[0, genes.length]} />
        <Line data={rowLinks} dataKey="pos" stroke="#000" strokeWidth={1.8} dot={false} connectNulls={false} isAnimationActive={false} />
      </ComposedChart>
    </div>

    <div style={place(146, 299)}>
      <ScatterChart width={73} height={1198} margin={{ top: 0, right: 1, bottom: 0, left: 0 }}>
        <XAxis
          type="number"
          dataKey="slot"
          domain={[0, 3]}
          ticks={[0.5, 1.5, 2.5]}
          interval={0}
          height={221}
          axisLine={false}
          tickLine={false}
          tickSize={0}
          tickMargin={9}
          tick={CompareTick}
        />
        <YAxis hide type="number" dataKey="row" reversed domain={[0, genes.length]} />
        <Scatter data={compareCells} shape={CompareCell} isAnimationActive={false} />
      </ScatterChart>
    </div>

    <div style={place(224, 299)}>
      <ScatterChart width={700} height={977} margin={NO_MARGIN}>
        <XAxis hide type="number" dataKey="col" domain={[0, COLS]} />
        <YAxis
          type="number"
          dataKey="row"
          orientation="right"
          reversed
          width={166}
          domain={[0, genes.length]}
          ticks={genes.map((_, i) => i + 0.5)}
          interval={0}
          axisLine={false}
          tickLine={false}
          tickSize={0}
          tickMargin={8}
          tickFormatter={(v: number) => genes[v - 0.5]}
          tick={{ fontFamily: FONT, fontSize: 18, fill: "#000" }}
        />
        <Scatter data={heatCells} shape={HeatCell} isAnimationActive={false} />
        <ReferenceLine x={63.4} stroke="#fff" strokeWidth={1} />
      </ScatterChart>
    </div>

    <div style={place(895, 162)}>
      <ScatterChart width={70} height={424} margin={{ top: 12, right: 0, bottom: 12, left: 0 }}>
        <XAxis hide type="number" dataKey="at" domain={[0, 1]} />
        <YAxis
          type="number"
          dataKey="z"
          orientation="right"
          width={43}
          domain={[-3, 3]}
          ticks={[-3, -2, -1, 0, 1, 2, 3]}
          interval={0}
          axisLine={false}
          tickLine={false}
          tickSize={0}
          tickMargin={11}
          tick={{ fontFamily: FONT, fontSize: 18, fill: "#000" }}
        />
        <Scatter data={barLevels} shape={BarCell} isAnimationActive={false} />
      </ScatterChart>
    </div>

    <svg width={300} height={900} style={place(948, 165)}>
      {legends.map((g) => (
        <g key={g.title}>
          <text x={0} y={g.top - 165 - 13} dominantBaseline="central" fontFamily={FONT} fontSize={18} fontWeight="bold" fill="#000">
            {g.title}
          </text>
          {g.names.map((name, i) => (
            <g key={name}>
              <rect x={0} y={g.top - 165 + i * 28} width={28} height={28} fill={g.colors[i]} />
              <text x={34} y={g.top - 165 + i * 28 + 14.6} dominantBaseline="central" fontFamily={FONT} fontSize={18} fill="#000">
                {name}
              </text>
            </g>
          ))}
        </g>
      ))}
    </svg>
  </div>
);

export default App;
